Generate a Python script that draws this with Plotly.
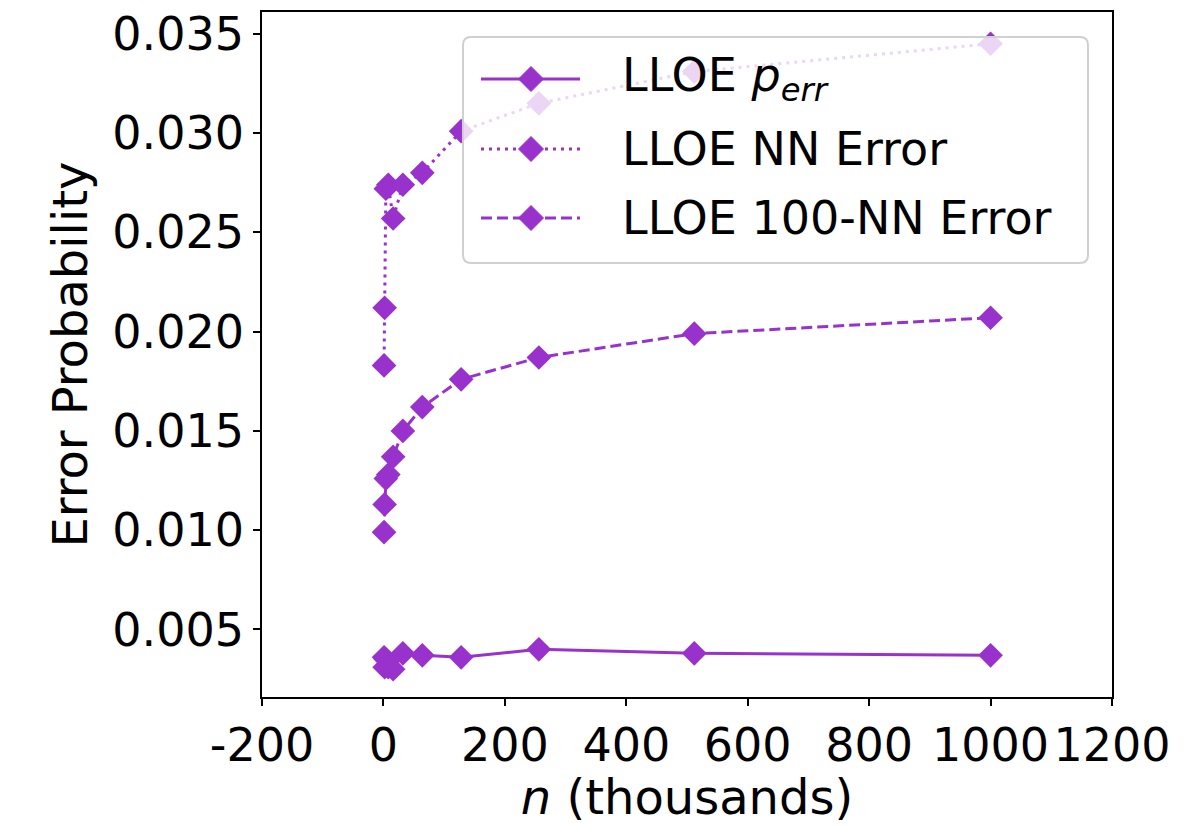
import plotly.graph_objects as go

# Training-set sizes (thousands of samples)
n_thousands = [1, 2, 4, 8, 16, 32, 64, 128, 256, 512, 1000]

# Error probabilities for each method
lloe_perr = [0.0036, 0.0031, 0.0035, 0.0031, 0.0030, 0.0038, 0.0037, 0.0036, 0.0040, 0.0038, 0.0037]
lloe_nn_error = [0.0183, 0.0212, 0.0272, 0.0274, 0.0257, 0.0274, 0.0280, 0.0301, 0.0315, 0.0331, 0.0345]
lloe_100nn_error = [0.0099, 0.0113, 0.0126, 0.0128, 0.0137, 0.0150, 0.0162, 0.0176, 0.0187, 0.0199, 0.0207]

x_ticks = [-200, 0, 200, 400, 600, 800, 1000, 1200]
x_ticktext = ["-200", "0", "200", "400", "600", "800", "1000", "1200"]
y_ticks = [0.005, 0.010, 0.015, 0.020, 0.025, 0.030, 0.035]
y_ticktext = ["0.005", "0.010", "0.015", "0.020", "0.025", "0.030", "0.035"]

series_names = ["LLOE <i>p</i><sub><i>err</i></sub>", "LLOE NN Error", "LLOE 100-NN Error"]
series_values = [lloe_perr, lloe_nn_error, lloe_100nn_error]
series_dash = ["solid", "3px,5px", "11px,5px"]

PURPLE = "#9932CC"
FONT = "DejaVu Sans"
TICK_FS = 46
TITLE_FS = 48
LEGEND_FS = 46

W, H = 1189, 825
ML, MR, MT, MB = 262, 77, 12, 128
PW, PH = W - ML - MR, H - MT - MB


def px(x):
    """Pixel column -> paper x."""
    return (x - ML) / PW


def py(y):
    """Pixel row -> paper y."""
    return (H - MB - y) / PH


fig = go.Figure()
for name, values, dash in zip(series_names, series_values, series_dash):
    fig.add_trace(go.Scatter(
        x=n_thousands, y=values, name=name, mode="lines+markers",
        line=dict(color=PURPLE, width=3, dash=dash),
        marker=dict(symbol="diamond", size=19, color=PURPLE),
        showlegend=False,
    ))

# Legend box (semi-transparent, rounded corners) drawn as layout shapes
bx0, bx1, by0, by1, r = 463, 1088, 37, 263, 8
box_path = (
    f"M {px(bx0 + r)},{py(by0)} L {px(bx1 - r)},{py(by0)} "
    f"Q {px(bx1)},{py(by0)} {px(bx1)},{py(by0 + r)} "
    f"L {px(bx1)},{py(by1 - r)} Q {px(bx1)},{py(by1)} {px(bx1 - r)},{py(by1)} "
    f"L {px(bx0 + r)},{py(by1)} Q {px(bx0)},{py(by1)} {px(bx0)},{py(by1 - r)} "
    f"L {px(bx0)},{py(by0 + r)} Q {px(bx0)},{py(by0)} {px(bx0 + r)},{py(by0)} Z"
)
shapes = [dict(type="path", xref="paper", yref="paper", path=box_path,
               fillcolor="rgba(255,255,255,0.8)", line=dict(color="#d0d0d0", width=2),
               layer="above")]
annotations = []
row_y = [79, 149, 218]
key_x0, key_x1, key_mid, text_x = 481, 580, 531, 620
half = 12.5
for name, dash, ry in zip(series_names, series_dash, row_y):
    shapes.append(dict(type="line", xref="paper", yref="paper",
                       x0=px(key_x0), x1=px(key_x1), y0=py(ry), y1=py(ry),
                       line=dict(color=PURPLE, width=3, dash=dash), layer="above"))
    diamond = (f"M {px(key_mid)},{py(ry - half)} L {px(key_mid + half)},{py(ry)} "
               f"L {px(key_mid)},{py(ry + half)} L {px(key_mid - half)},{py(ry)} Z")
    shapes.append(dict(type="path", xref="paper", yref="paper", path=diamond,
                       fillcolor=PURPLE, line=dict(color=PURPLE, width=1), layer="above"))
    annotations.append(dict(xref="paper", yref="paper", x=px(text_x), y=py(ry),
                            xanchor="left", yanchor="middle", showarrow=False,
                            text=name, font=dict(family=FONT, size=LEGEND_FS, color="black")))

fig.update_layout(
    width=W, height=H,
    margin=dict(l=ML, r=MR, t=MT, b=MB),
    paper_bgcolor="white", plot_bgcolor="white",
    font=dict(family=FONT, size=TICK_FS, color="black"),
    showlegend=False,
    shapes=shapes,
    annotations=annotations,
    xaxis=dict(
        range=[-200, 1200], tickvals=x_ticks, ticktext=x_ticktext,
        showgrid=False, zeroline=False, automargin=False, tickangle=0,
        showline=True, linecolor="black", linewidth=1.5, mirror=True,
        ticks="outside", ticklen=7, tickwidth=1.5, tickcolor="black",
        tickfont=dict(family=FONT, size=TICK_FS),
        title=dict(text="<i>n</i> (thousands)", font=dict(family=FONT, size=TITLE_FS), standoff=8),
    ),
    yaxis=dict(
        range=[0.0016, 0.0361], tickvals=y_ticks, ticktext=y_ticktext,
        showgrid=False, zeroline=False, automargin=False,
        showline=True, linecolor="black", linewidth=1.5, mirror=True,
        ticks="outside", ticklen=7, tickwidth=1.5, tickcolor="black",
        tickfont=dict(family=FONT, size=TICK_FS),
        title=dict(text="Error Probability", font=dict(family=FONT, size=TITLE_FS), standoff=10),
    ),
)

fig.write_html("out.html")
